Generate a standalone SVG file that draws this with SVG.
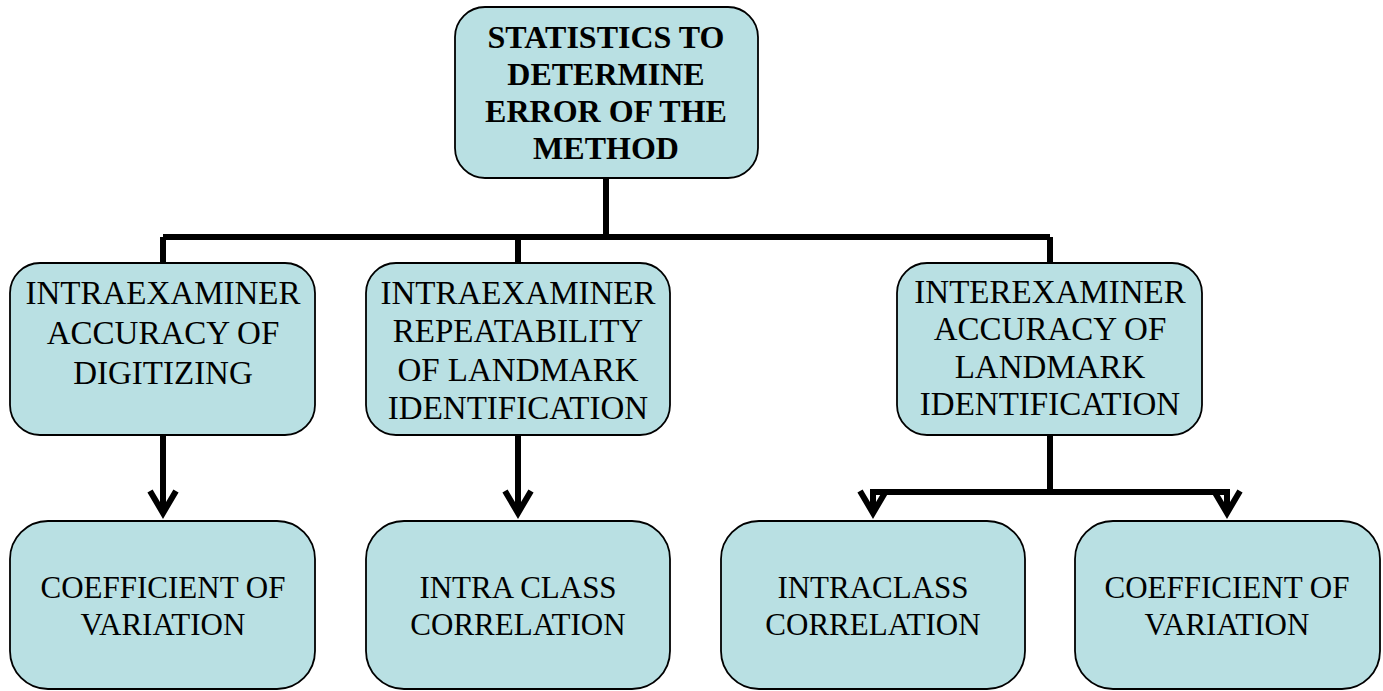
<svg xmlns="http://www.w3.org/2000/svg" width="1383" height="691" viewBox="0 0 1383 691">
  <style>
    .box { fill: #B9E0E3; stroke: #000; stroke-width: 1.8; }
    .t { font-family: "Liberation Serif", "Times New Roman", serif; fill: #000; text-anchor: middle; }
    .tb { font-size: 32px; font-weight: bold; }
    .tm { font-size: 33px; }
    .ts { font-size: 31px; }
    .con { fill: none; stroke: #000; stroke-width: 6; stroke-linejoin: miter; }
  </style>
  <defs>
    <marker id="chev" markerUnits="userSpaceOnUse" viewBox="-28 -18 34 36" refX="0" refY="0" markerWidth="34" markerHeight="36" orient="auto">
      <path d="M-22,-13 L0,0 L-22,13" fill="none" stroke="#000" stroke-width="6" stroke-linejoin="miter"/>
    </marker>
  </defs>
  <rect width="1383" height="691" fill="#fff"/>

  <g id="connectors">
    <path class="con" d="M606 178 V237"/>
    <path class="con" d="M163 237 H1050"/>
    <path class="con" d="M163 237 V263"/>
    <path class="con" d="M518 237 V263"/>
    <path class="con" d="M1050 237 V263"/>
    <path class="con" d="M163 435 V513" marker-end="url(#chev)"/>
    <path class="con" d="M518 435 V513" marker-end="url(#chev)"/>
    <path class="con" d="M1050 435 V492"/>
    <path class="con" d="M1050 492 H873 V513" marker-end="url(#chev)"/>
    <path class="con" d="M1050 492 H1227 V513" marker-end="url(#chev)"/>
  </g>

  <g id="node-root">
    <rect class="box" x="455" y="7" width="303" height="171" rx="30" ry="30"/>
    <text class="t tb" x="606" y="48">STATISTICS TO</text>
    <text class="t tb" x="606" y="85">DETERMINE</text>
    <text class="t tb" x="606" y="122">ERROR OF THE</text>
    <text class="t tb" x="606" y="159">METHOD</text>
  </g>

  <g id="node-intra-digitizing">
    <rect class="box" x="10" y="263" width="305" height="172" rx="30" ry="30"/>
    <text class="t tm" x="163" y="304">INTRAEXAMINER</text>
    <text class="t tm" x="163" y="344">ACCURACY OF</text>
    <text class="t tm" x="163" y="384">DIGITIZING</text>
  </g>

  <g id="node-intra-repeatability">
    <rect class="box" x="366" y="263" width="304" height="172" rx="30" ry="30"/>
    <text class="t tm" x="518" y="304">INTRAEXAMINER</text>
    <text class="t tm" x="518" y="342">REPEATABILITY</text>
    <text class="t tm" x="518" y="381">OF LANDMARK</text>
    <text class="t tm" x="518" y="419">IDENTIFICATION</text>
  </g>

  <g id="node-inter-accuracy">
    <rect class="box" x="897" y="263" width="305" height="172" rx="30" ry="30"/>
    <text class="t tm" x="1050" y="303">INTEREXAMINER</text>
    <text class="t tm" x="1050" y="340">ACCURACY OF</text>
    <text class="t tm" x="1050" y="378">LANDMARK</text>
    <text class="t tm" x="1050" y="415">IDENTIFICATION</text>
  </g>

  <g id="node-cv-1">
    <rect class="box" x="10" y="521" width="305" height="168" rx="38" ry="38"/>
    <text class="t ts" x="163" y="598">COEFFICIENT OF</text>
    <text class="t ts" x="163" y="635">VARIATION</text>
  </g>

  <g id="node-icc-1">
    <rect class="box" x="366" y="521" width="304" height="168" rx="38" ry="38"/>
    <text class="t ts" x="518" y="598">INTRA CLASS</text>
    <text class="t ts" x="518" y="635">CORRELATION</text>
  </g>

  <g id="node-icc-2">
    <rect class="box" x="721" y="521" width="304" height="168" rx="38" ry="38"/>
    <text class="t ts" x="873" y="598">INTRACLASS</text>
    <text class="t ts" x="873" y="635">CORRELATION</text>
  </g>

  <g id="node-cv-2">
    <rect class="box" x="1075" y="521" width="305" height="168" rx="38" ry="38"/>
    <text class="t ts" x="1227" y="598">COEFFICIENT OF</text>
    <text class="t ts" x="1227" y="635">VARIATION</text>
  </g>
</svg>
